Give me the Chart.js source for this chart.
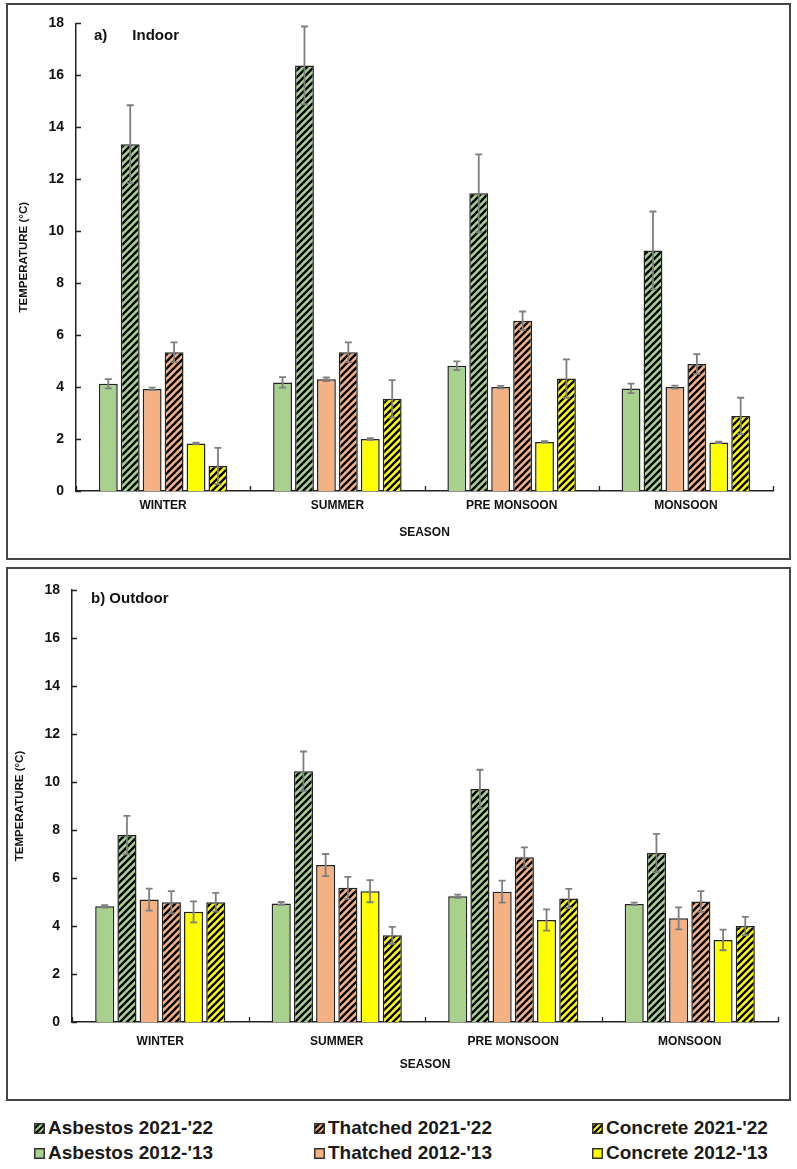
<!DOCTYPE html>
<html>
<head>
<meta charset="utf-8">
<script src="https://cdn.jsdelivr.net/npm/chart.js@4.4.1/dist/chart.umd.min.js"></script>
<style>
  html, body { margin: 0; padding: 0; background: #fff; }
  body { width: 797px; height: 1169px; position: relative; overflow: hidden; font-family: "Liberation Sans", Arial, sans-serif; }
  .frame { position: absolute; border: 2px solid #454545; box-sizing: border-box; pointer-events: none; }
  canvas { position: absolute; left: 0; }
  .note { position: absolute; font-weight: bold; color: #111; white-space: pre; }
  .leg { position: absolute; display: flex; align-items: center; font-size: 19px; font-weight: bold; color: #1a1a1a; white-space: nowrap; }
  .leg canvas { position: static; margin-right: 3px; }
</style>
</head>
<body>
<div class="frame" style="left:6px;top:3px;width:785px;height:557px;"></div>
<div class="frame" style="left:6px;top:567px;width:785px;height:534px;"></div>
<canvas id="cIn" width="797" height="556" style="top:3px"></canvas>
<canvas id="cOut" width="797" height="532" style="top:568px"></canvas>
<div class="note" style="left:94px;top:26px;font-size:15px;">a)      Indoor</div>
<div class="note" style="left:91px;top:589px;font-size:15px;">b) Outdoor</div>
<div id="legend"></div>
<script>
// ---------- data ----------
const categories = ['WINTER', 'SUMMER', 'PRE MONSOON', 'MONSOON'];
const yTickValues = [0, 2, 4, 6, 8, 10, 12, 14, 16, 18];

// Indoor (panel a)
const asbestos2012In = [4.13, 4.18, 4.82, 3.95];
const asbestos2012InErr = [0.18, 0.20, 0.17, 0.18];
const asbestos2021In = [13.35, 16.38, 11.46, 9.26];
const asbestos2021InErr = [1.50, 1.50, 1.50, 1.50];
const thatched2012In = [3.93, 4.30, 4.00, 4.00];
const thatched2012InErr = [0.05, 0.07, 0.05, 0.06];
const thatched2021In = [5.34, 5.34, 6.55, 4.89];
const thatched2021InErr = [0.38, 0.38, 0.36, 0.38];
const concrete2012In = [1.83, 2.00, 1.89, 1.87];
const concrete2012InErr = [0.03, 0.03, 0.03, 0.03];
const concrete2021In = [0.96, 3.55, 4.33, 2.89];
const concrete2021InErr = [0.70, 0.72, 0.74, 0.70];

// Outdoor (panel b)
const asbestos2012Out = [4.82, 4.94, 5.24, 4.92];
const asbestos2012OutErr = [0.05, 0.06, 0.07, 0.05];
const asbestos2021Out = [7.79, 10.45, 9.71, 7.04];
const asbestos2021OutErr = [0.80, 0.82, 0.80, 0.80];
const thatched2012Out = [5.10, 6.54, 5.43, 4.32];
const thatched2012OutErr = [0.46, 0.46, 0.46, 0.46];
const thatched2021Out = [4.99, 5.59, 6.86, 5.02];
const thatched2021OutErr = [0.46, 0.46, 0.42, 0.43];
const concrete2012Out = [4.59, 5.45, 4.25, 3.42];
const concrete2012OutErr = [0.44, 0.46, 0.44, 0.43];
const concrete2021Out = [4.99, 3.61, 5.15, 4.00];
const concrete2021OutErr = [0.39, 0.35, 0.40, 0.38];

const seriesNames = ["Asbestos 2012-'13", "Asbestos 2021-'22", "Thatched 2012-'13", "Thatched 2021-'22", "Concrete 2012-'13", "Concrete 2021-'22"];

// ---------- styles ----------
const GREEN = '#a9d18e', ORANGE = '#f4b183', YELLOW = '#ffff00';
const seriesColors = [GREEN, GREEN, ORANGE, ORANGE, YELLOW, YELLOW];
const seriesHatched = [false, true, false, true, false, true];

function makePattern(color, size, lw) {
  const c = document.createElement('canvas');
  c.width = size; c.height = size;
  const g = c.getContext('2d');
  g.fillStyle = color; g.fillRect(0, 0, size, size);
  g.strokeStyle = '#000'; g.lineWidth = lw; g.lineCap = 'square';
  g.beginPath();
  g.moveTo(0, size); g.lineTo(size, 0);
  g.moveTo(-size / 2, size / 2); g.lineTo(size / 2, -size / 2);
  g.moveTo(size / 2, size * 1.5); g.lineTo(size * 1.5, size / 2);
  g.stroke();
  return g.createPattern(c, 'repeat');
}
function fillFor(i) {
  return seriesHatched[i] ? makePattern(seriesColors[i], 7, 2.3) : seriesColors[i];
}

const errorBarPlugin = {
  id: 'errorBars',
  afterDatasetsDraw(chart) {
    const ctx = chart.ctx, ys = chart.scales.y;
    ctx.save();
    ctx.strokeStyle = '#7f7f7f';
    ctx.lineWidth = 1.8;
    chart.data.datasets.forEach((ds, i) => {
      const meta = chart.getDatasetMeta(i);
      meta.data.forEach((bar, j) => {
        const v = ds.data[j], e = ds.errors[j];
        const yt = ys.getPixelForValue(v + e), yb = ys.getPixelForValue(v - e);
        const x = bar.x;
        ctx.beginPath();
        ctx.moveTo(x, yt); ctx.lineTo(x, yb);
        ctx.moveTo(x - 3.5, yt); ctx.lineTo(x + 3.5, yt);
        ctx.moveTo(x - 3.5, yb); ctx.lineTo(x + 3.5, yb);
        ctx.stroke();
      });
    });
    ctx.restore();
  }
};

const innerTicksPlugin = {
  id: 'innerTicks',
  afterDraw(chart) {
    const ctx = chart.ctx, ys = chart.scales.y, xs = chart.scales.x, a = chart.chartArea;
    ctx.save();
    ctx.strokeStyle = '#222';
    ctx.lineWidth = 1.3;
    ctx.beginPath();
    ys.ticks.forEach((t, k) => {
      const py = Math.round(ys.getPixelForTick(k)) + 0.5;
      ctx.moveTo(a.left, py); ctx.lineTo(a.left + 5, py);
    });
    const n = chart.data.labels.length;
    const w = (xs.right - xs.left) / n;
    for (let k = 0; k <= n; k++) {
      const px = Math.round(xs.left + k * w) + 0.5;
      ctx.moveTo(px, a.bottom); ctx.lineTo(px, a.bottom - 5);
    }
    ctx.stroke();
    ctx.restore();
  }
};

function buildChart(id, series, errs, pad, yW, xH, xPad) {
  const datasets = series.map((d, i) => ({
    label: seriesNames[i],
    data: d,
    errors: errs[i],
    backgroundColor: fillFor(i),
    borderColor: '#222',
    borderWidth: 1.5,
    barPercentage: 0.86,
    categoryPercentage: 0.755
  }));
  return new Chart(document.getElementById(id), {
    type: 'bar',
    data: { labels: categories, datasets },
    plugins: [errorBarPlugin, innerTicksPlugin],
    options: {
      responsive: false,
      devicePixelRatio: 1,
      animation: false,
      layout: { padding: pad },
      plugins: { legend: { display: false }, tooltip: { enabled: false } },
      scales: {
        x: {
          grid: { display: false, drawTicks: false },
          border: { display: true, color: '#222', width: 1.5 },
          ticks: { color: '#111', font: { family: 'Liberation Sans', size: 12, weight: 'bold' }, padding: xPad, maxRotation: 0 },
          title: { display: true, text: 'SEASON', color: '#111', font: { family: 'Liberation Sans', size: 12, weight: 'bold' }, padding: { top: 4, bottom: 4 } },
          afterFit(ax) { ax.height = xH; }
        },
        y: {
          min: 0, max: 18,
          afterBuildTicks(ax) { ax.ticks = yTickValues.map(v => ({ value: v })); },
          grid: { display: false, drawTicks: false },
          border: { display: true, color: '#222', width: 1.5 },
          ticks: { color: '#111', font: { family: 'Liberation Sans', size: 14, weight: 'bold' }, padding: 12 },
          title: { display: true, text: 'TEMPERATURE (°C)', color: '#111', font: { family: 'Liberation Sans', size: 11.5, weight: 'bold' }, padding: { top: 3, bottom: 4 } },
          afterFit(ax) { ax.width = yW; }
        }
      }
    }
  });
}

buildChart('cIn',
  [asbestos2012In, asbestos2021In, thatched2012In, thatched2021In, concrete2012In, concrete2021In],
  [asbestos2012InErr, asbestos2021InErr, thatched2012InErr, thatched2021InErr, concrete2012InErr, concrete2021InErr],
  { left: 14, right: 24, top: 17, bottom: 15 }, 62, 53, 7);

buildChart('cOut',
  [asbestos2012Out, asbestos2021Out, thatched2012Out, thatched2021Out, concrete2012Out, concrete2021Out],
  [asbestos2012OutErr, asbestos2021OutErr, thatched2012OutErr, thatched2021OutErr, concrete2012OutErr, concrete2021OutErr],
  { left: 10, right: 19, top: 22, bottom: 24 }, 62, 54, 12);

// ---------- legend (HTML) ----------
const legendOrder = [1, 3, 5, 0, 2, 4];
const legendCols = [34, 314, 592];
const legendRows = [1117, 1142];
const legendEl = document.getElementById('legend');
legendOrder.forEach((si, k) => {
  const row = Math.floor(k / 3), col = k % 3;
  const item = document.createElement('div');
  item.className = 'leg';
  item.style.left = legendCols[col] + 'px';
  item.style.top = legendRows[row] + 'px';
  const sw = document.createElement('canvas');
  sw.width = 11; sw.height = 11;
  const g = sw.getContext('2d');
  g.fillStyle = seriesHatched[si] ? makePattern(seriesColors[si], 6, 2.2) : seriesColors[si];
  g.fillRect(0, 0, 11, 11);
  g.strokeStyle = '#333'; g.lineWidth = 1.5; g.strokeRect(0.75, 0.75, 9.5, 9.5);
  item.appendChild(sw);
  const t = document.createElement('span');
  t.textContent = seriesNames[si];
  item.appendChild(t);
  legendEl.appendChild(item);
});
</script>
</body>
</html>
